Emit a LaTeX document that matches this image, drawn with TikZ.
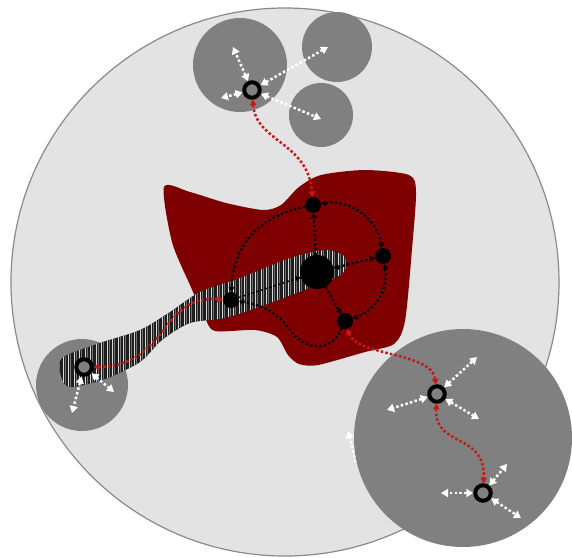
\documentclass[tikz,border=0pt]{standalone}
\usepackage{tikz}
\usetikzlibrary{arrows.meta}
\definecolor{field}{HTML}{E3E3E3}
\definecolor{rim}{HTML}{8A8A8A}
\definecolor{patch}{HTML}{808080}
\definecolor{tissue}{HTML}{7F0000}
\definecolor{trail}{HTML}{C41A1A}
\definecolor{band}{HTML}{1E1E1E}

\begin{document}
\begin{tikzpicture}[x=1pt,y=-1pt,
 hb/.style={circle,fill=black,inner sep=0pt,minimum size=16pt},
 rg/.style={circle,draw=black,fill=patch,line width=4pt,inner sep=0pt,minimum size=15.5pt},
 rd/.style={draw=trail,line width=2.5pt,dash pattern=on 2.5pt off 2.2pt,{Triangle[length=5.5pt,width=6.5pt]}-{Triangle[length=5.5pt,width=6.5pt]}},
 bd/.style={draw=black,line width=2.3pt,dash pattern=on 2.3pt off 2.3pt},
 wd/.style={draw=white,line width=2.5pt,dash pattern=on 2.5pt off 2.3pt,{Triangle[length=7pt,width=8pt]}-{Triangle[length=7pt,width=8pt]}},
 tip/.style={-{Triangle[length=5pt,width=6pt]}}
]
\useasboundingbox (0,0) rectangle (572,557);
\fill[white] (0,0) rectangle (572,557);
\filldraw[fill=field,draw=rim,line width=1.2pt] (285,282) circle[radius=274pt];

\coordinate (wH1) at (356,462);
\coordinate (wH2) at (348,431);
\draw[wd,-{Triangle[length=7pt,width=8pt]}] (wH1) -- (wH2);

\fill[patch] (240,65) circle[radius=47pt];
\fill[patch] (337,47) circle[radius=35pt];
\fill[patch] (321,115) circle[radius=32pt];
\fill[patch] (82,385) circle[radius=46pt];
\fill[patch] (463,438) circle[radius=109pt];

\fill[tissue] plot[smooth cycle,tension=.45] coordinates {(164,187) (190,192) (226,203) (263,210) (281,205) (299,187) (321,175) (365,170) (409,175) (416,192) (412,249) (405,321) (394,344) (365,352) (318,365) (299,364) (288,355) (277,337) (255,330) (215,331) (205,318) (190,285) (172,242)};

\begin{scope}
\clip plot[smooth cycle,tension=.5] coordinates {(62,358) (100,343) (140,330) (170,312) (200,292) (240,278) (290,258) (325,250) (343,255) (347,266) (338,277) (310,288) (265,305) (225,318) (190,323) (162,340) (140,362) (105,379) (70,387) (61,376)};
\fill[band] (50,230) rectangle (360,400);
\foreach \x in {52,57.5,...,352} {
 \draw[white!85!black,line width=.9pt] (\x,230) -- (\x,400);
 \draw[black!55,line width=.9pt] (\x+2,230) -- (\x+2,400);
}
\end{scope}

\node[hb,minimum size=34pt] (hub) at (317,272) {};
\node[hb] (nT) at (313,205) {};
\node[hb] (nR) at (383,256) {};
\node[hb] (nB) at (345,321) {};
\node[hb] (nL) at (231,300) {};

\node[rg] (rgT) at (252,90) {};
\node[rg] (rgL) at (84,367) {};
\node[rg] (rgA) at (437,394) {};
\node[rg] (rgB) at (483,493) {};

\draw[bd,{Triangle[length=5pt,width=6pt]}-{Triangle[length=5pt,width=6pt]}] (nT) to[bend left=45] (nR);
\draw[bd,{Triangle[length=5pt,width=6pt]}-{Triangle[length=5pt,width=6pt]}] (nR) to[bend left=40] (nB);
\draw[bd,tip] (hub) -- (nT);
\draw[bd,{Triangle[length=5pt,width=6pt]}-{Triangle[length=5pt,width=6pt]}] (hub) -- (nR);
\draw[bd,tip] (hub) -- (nB);
\draw[bd,tip] (nT) .. controls (266,215) and (234,238) .. (nL);
\draw[bd,tip] (nB) .. controls (330,354) and (305,350) .. (290,330) .. controls (278,313) and (262,305) .. (nL);
\draw[bd,line width=1.4pt,tip] (nL) -- (hub);

\draw[rd] (rgT) .. controls (256,142) and (308,142) .. (nT);
\draw[rd] (nB) .. controls (356,356) and (432,352) .. (rgA);
\draw[rd] (rgA) .. controls (434,448) and (486,432) .. (rgB);
\draw[rd] (nL) .. controls (160,295) and (168,366) .. (rgL);

\coordinate (wT1) at (233,47);
\coordinate (wT2) at (221,98);
\coordinate (wT3) at (328,47);
\coordinate (wT4) at (321,119);
\coordinate (wL1) at (72,413);
\coordinate (wL2) at (114,392);
\coordinate (wA1) at (477,357);
\coordinate (wA2) at (387,410);
\coordinate (wA3) at (479,419);
\coordinate (wB1) at (441,493);
\coordinate (wB2) at (507,464);
\coordinate (wB3) at (521,518);
\draw[wd] (rgT) -- (wT1); \draw[wd] (rgT) -- (wT2); \draw[wd] (rgT) -- (wT3); \draw[wd] (rgT) -- (wT4);
\draw[wd] (rgL) -- (wL1); \draw[wd] (rgL) -- (wL2);
\draw[wd] (rgA) -- (wA1); \draw[wd] (rgA) -- (wA2); \draw[wd] (rgA) -- (wA3);
\draw[wd] (rgB) -- (wB1); \draw[wd] (rgB) -- (wB2); \draw[wd] (rgB) -- (wB3);
\end{tikzpicture}
\end{document}
